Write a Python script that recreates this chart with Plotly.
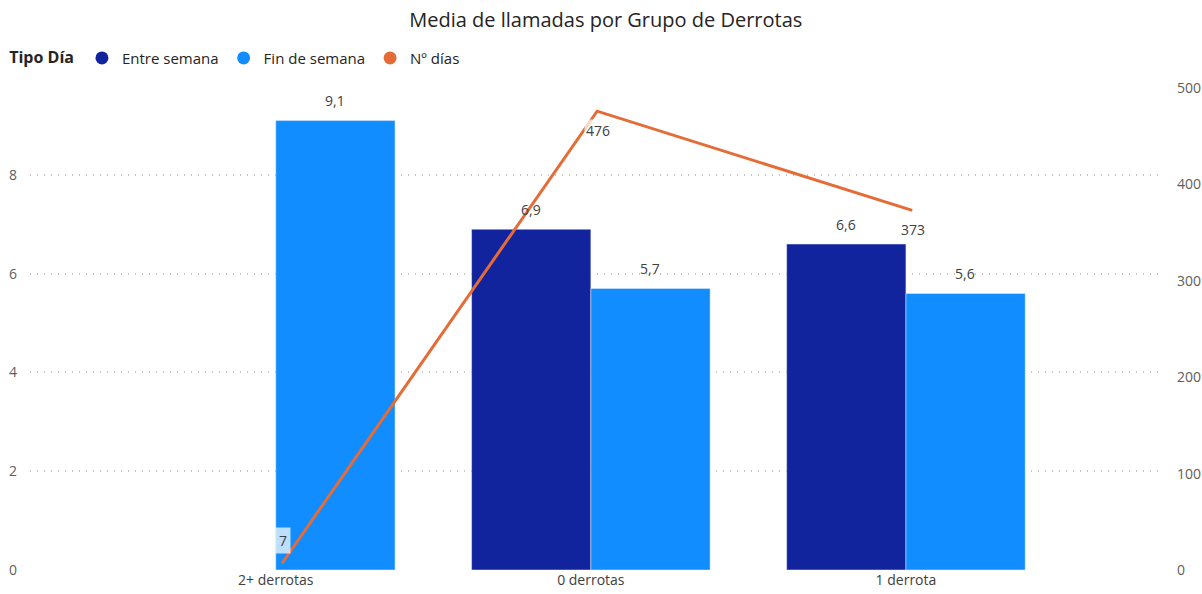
import plotly.graph_objects as go

# datos
grupos = ["2+ derrotas", "0 derrotas", "1 derrota"]
entre_semana = [None, 6.9, 6.6]
fin_de_semana = [9.1, 5.7, 5.6]
n_dias = [7, 476, 373]

AZUL_OSC = "#12239E"
AZUL = "#118DFF"
NARANJA = "#E66C37"
FONT = "Open Sans"
MEDIA_BARRA = 59.5  # px, mitad del ancho de barra
RANGO_X = [-0.78, 2.80]
DESPLAZ_LINEA = 0.02  # la línea va un poco a la derecha del centro de categoría

fig = go.Figure()

fig.add_trace(go.Bar(x=grupos, y=entre_semana, name="Entre semana",
                     marker_color=AZUL_OSC, showlegend=False))
fig.add_trace(go.Bar(x=grupos, y=fin_de_semana, name="Fin de semana",
                     marker_color=AZUL, showlegend=False))
fig.add_trace(go.Scatter(
    x=grupos, y=n_dias, name="Nº días", mode="lines", xaxis="x2", yaxis="y2",
    line=dict(color=NARANJA, width=3), showlegend=False, cliponaxis=False,
))

# entradas de leyenda con círculos, como en el original
for nombre, color in [("Entre semana", AZUL_OSC), ("Fin de semana", AZUL), ("Nº días", NARANJA)]:
    fig.add_trace(go.Scatter(
        x=[None], y=[None], mode="markers", name=nombre,
        marker=dict(symbol="circle", size=13, color=color),
    ))

# etiquetas de las barras
for serie, dx in [(entre_semana, -MEDIA_BARRA), (fin_de_semana, MEDIA_BARRA)]:
    for g, v in zip(grupos, serie):
        if v is None:
            continue
        fig.add_annotation(
            x=g, y=v, xref="x", yref="y", text=f"{v:.1f}".replace(".", ","),
            showarrow=False, xshift=dx, yshift=20,
            font=dict(family=FONT, size=14, color="#404040"),
        )

# etiquetas de la línea
for g, v in zip(grupos, n_dias):
    abajo = v >= 50
    fig.add_annotation(
        x=g, y=v, xref="x2", yref="y2", text=str(v), showarrow=False,
        yshift=-19 if abajo else 23, xshift=1,
        font=dict(family=FONT, size=14, color="#404040"),
        bgcolor="rgba(255,255,255,0.72)", borderpad=1 if abajo else 3,
    )

fig.update_layout(
    title=dict(text="Media de llamadas por Grupo de Derrotas", x=0.504, xanchor="center",
               y=0.966, yanchor="middle", font=dict(family=FONT, size=20, color="#252423")),
    font=dict(family=FONT, size=14, color="#605E5C"),
    barmode="group", bargap=0.243, bargroupgap=0,
    plot_bgcolor="white", paper_bgcolor="white",
    width=1202, height=594,
    margin=dict(l=30, r=44, t=88, b=24, autoexpand=False),
    legend=dict(
        orientation="h", xref="container", x=0.006, xanchor="left",
        yref="container", y=0.902, yanchor="middle",
        title=dict(text="<b>Tipo Día</b>", font=dict(size=16, color="#252423")),
        font=dict(size=15, color="#252423"), itemwidth=30,
    ),
    xaxis=dict(range=RANGO_X, showgrid=False, showline=False, ticks="",
               automargin=False, tickfont=dict(size=14, color="#404040")),
    xaxis2=dict(range=[RANGO_X[0] - DESPLAZ_LINEA, RANGO_X[1] - DESPLAZ_LINEA],
                overlaying="x", visible=False, automargin=False),
    yaxis=dict(range=[0, 9.76], tickvals=[0, 2, 4, 6, 8], showgrid=True,
               gridcolor="#C8C6C4", griddash="1px,6px", gridwidth=1.5, zeroline=False,
               automargin=False, ticklabelstandoff=12, tickfont=dict(size=14, color="#605E5C")),
    yaxis2=dict(range=[0, 500], tickvals=[0, 100, 200, 300, 400, 500], overlaying="y",
                side="right", showgrid=False, zeroline=False, automargin=False,
                ticklabelstandoff=18, tickfont=dict(size=14, color="#605E5C")),
)

# sin margen del body para que la figura ocupe la ventana exacta
fig.write_html("out.html", config={"displayModeBar": False},
               post_script="document.body.style.margin = '0';")
